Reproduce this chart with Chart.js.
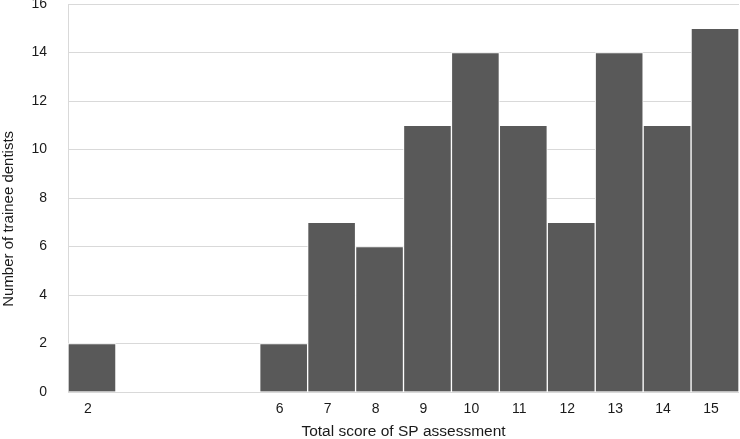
<!DOCTYPE html>
<html>
<head>
<meta charset="utf-8">
<script src="https://cdn.jsdelivr.net/npm/chart.js@4/dist/chart.umd.min.js"></script>
<style>
  html, body { margin: 0; padding: 0; background: #fff; }
  #wrap { width: 740px; height: 439px; }
</style>
</head>
<body>
<div id="wrap"><canvas id="myChart"></canvas></div>
<script>
// punteggi totali (3, 4, 5 senza etichetta)
var punteggi = ["2", "", "", "", "6", "7", "8", "9", "10", "11", "12", "13", "14", "15"];
var dentisti = [2, 0, 0, 0, 2, 7, 6, 11, 14, 11, 7, 14, 11, 15];
var yTicks = [0, 2, 4, 6, 8, 10, 12, 14, 16];

var grigio = "#d9d9d9";
var testo = "#1a1a1a";

Chart.defaults.font.family = "'Liberation Sans', Arial, sans-serif";
Chart.defaults.color = testo;

var ctx = document.getElementById("myChart");
var myChart = new Chart(ctx, {
    type: "bar",
    data: {
        labels: punteggi,
        datasets: [
            {
                label: "Number of trainee dentists",
                data: dentisti,
                backgroundColor: "#595959",
                borderColor: "#ffffff",
                borderWidth: 1,
                barPercentage: 1,
                categoryPercentage: 1
            }
        ]
    },
    options: {
        responsive: true,
        maintainAspectRatio: false,
        animation: false,
        layout: { padding: { top: 4, right: 1, left: 0, bottom: 0 } },
        plugins: {
            legend: { display: false },
            tooltip: { enabled: false }
        },
        scales: {
            x: {
                grid: {
                    drawTicks: false,
                    color: function (c) {
                        return c.index === punteggi.length ? grigio : "rgba(0,0,0,0)";
                    }
                },
                border: { display: false },
                ticks: {
                    padding: 9,
                    labelOffset: -4,
                    maxRotation: 0,
                    autoSkip: false,
                    font: { size: 14 },
                    color: testo
                },
                title: {
                    display: true,
                    text: "Total score of SP assessment",
                    font: { size: 15.5 },
                    color: testo,
                    padding: { top: 3, bottom: -2 }
                },
                afterFit: function (scale) {
                    scale.height = 47;
                    scale.paddingLeft = 0;
                    scale.paddingRight = 0;
                }
            },
            y: {
                min: 0,
                max: 16,
                afterBuildTicks: function (scale) {
                    scale.ticks = yTicks.map(function (v) { return { value: v }; });
                },
                grid: { color: grigio, drawTicks: false },
                border: { display: true, color: grigio },
                ticks: {
                    padding: 21,
                    font: { size: 14 },
                    color: testo
                },
                title: {
                    display: true,
                    // spazi finali per spostare il titolo verso il basso come nell'originale
                    text: "Number of trainee dentists" + "\u00a0".repeat(10),
                    font: { size: 15 },
                    color: testo,
                    padding: { top: 0, bottom: 0 }
                },
                afterFit: function (scale) {
                    scale.width = 68;
                    scale.paddingTop = 0;
                    scale.paddingBottom = 0;
                }
            }
        }
    }
});
</script>
</body>
</html>
